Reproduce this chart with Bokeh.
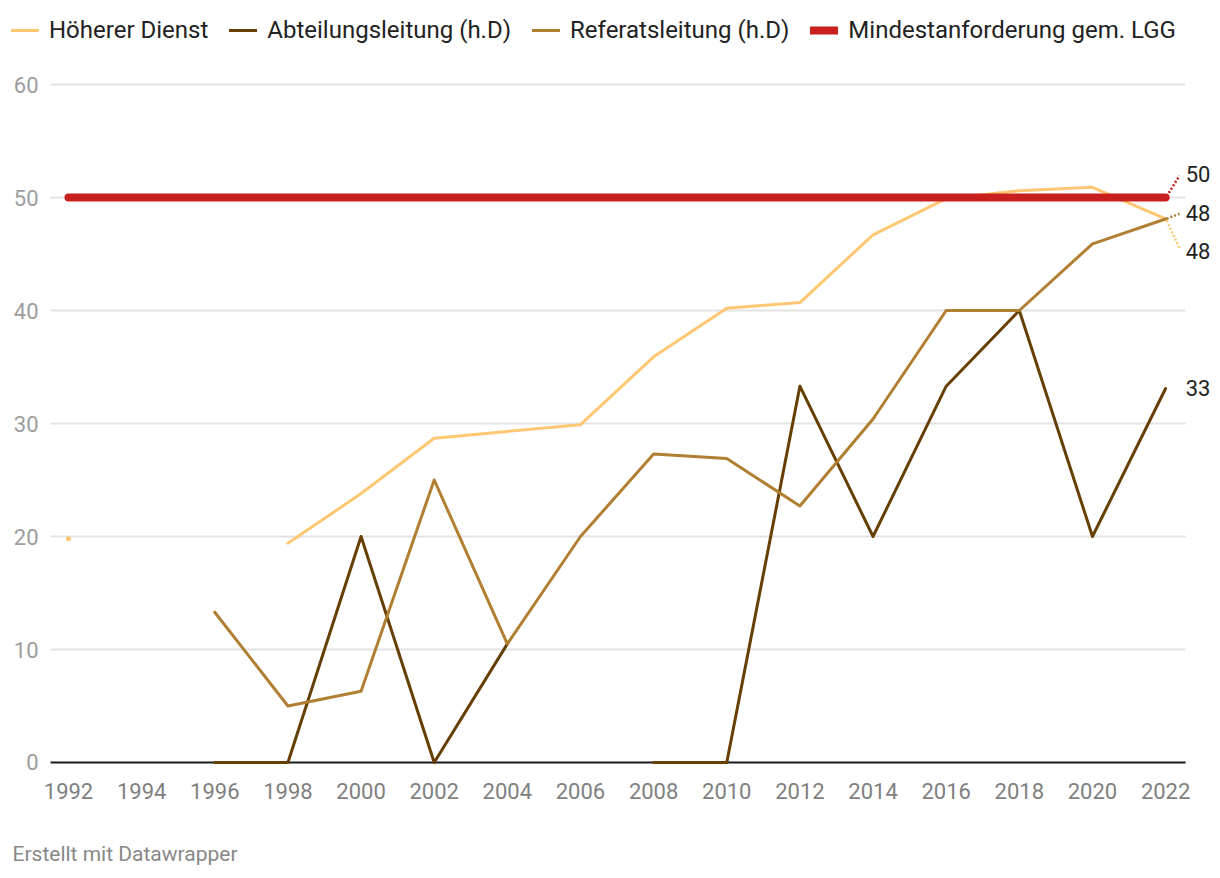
import math
from bokeh.plotting import figure
from bokeh.models import (FixedTicker, Legend, LegendItem, ColumnDataSource, Title)
from bokeh.core.properties import value
from bokeh.embed import file_html
from bokeh.resources import INLINE

nan = float("nan")

years = [1992, 1994, 1996, 1998, 2000, 2002, 2004, 2006, 2008, 2010, 2012, 2014, 2016, 2018, 2020, 2022]
hoeherer = [19.8, nan, nan, 19.4, 23.8, 28.7, 29.3, 29.9, 35.9, 40.2, 40.7, 46.7, 49.9, 50.6, 50.9, 48.1]
abteilung = [nan, nan, 0, 0, 20, 0, 10.5, nan, 0, 0, 33.3, 20, 33.3, 40, 20, 33.1]
referat = [nan, nan, 13.3, 5.0, 6.3, 25.0, 10.5, 20.0, 27.3, 26.9, 22.7, 30.4, 40.0, 40.0, 45.9, 48.1]
mindest = [50] * 16

names = ["Höherer Dienst", "Abteilungsleitung (h.D)", "Referatsleitung (h.D)", "Mindestanforderung gem. LGG"]
series = [hoeherer, abteilung, referat, mindest]
colors = ["#fec872", "#653f04", "#b07f31", "#c81f1f"]
widths = [3, 3, 3, 8]
# label vertical offsets (data units) and whether to draw a connector
label_offsets = [-2.8, 0.0, 0.5, 2.1]
connectors = [True, False, True, True]

x_ticks = list(range(1992, 2023, 2))
y_ticks = [0, 10, 20, 30, 40, 50, 60]

FONT = "Roboto"
X0, X1 = 1990.1406, 2023.501          # full frame range
GX0, GX1 = 1991.508, 2022.547          # extent of the grid lines

p = figure(width=1220, height=878, output_backend="svg", toolbar_location=None,
           x_range=(X0, X1), y_range=(-1.239, 67.434),
           min_border_left=0, min_border_right=0, min_border_top=0, min_border_bottom=102)
p.outline_line_color = None
p.background_fill_color = "white"
p.border_fill_color = "white"
p.xgrid.grid_line_color = None
p.ygrid.grid_line_color = None

p.xaxis.ticker = FixedTicker(ticks=x_ticks)
ax = p.xaxis[0]
ax.axis_line_color = None
ax.major_tick_line_color = None
ax.minor_tick_line_color = None
ax.major_label_text_font = FONT
ax.major_label_text_font_size = "22px"
ax.major_label_text_color = "#7f7f7f"
ax.major_label_standoff = 0
p.yaxis.visible = False

# y tick labels, grid lines (ending before the value labels) and the zero baseline
p.text([GX0] * len(y_ticks), y_ticks, text=[str(t) for t in y_ticks], x_offset=-12,
       text_font=value(FONT), text_font_size="22px", text_color="#9d9d9d",
       text_align="right", text_baseline="middle")
grid_y = [t for t in y_ticks if t != 0]
p.segment(x0=[GX0] * len(grid_y), y0=grid_y, x1=[GX1] * len(grid_y), y1=grid_y,
          line_color="#e3e3e3", line_width=2)
p.segment(x0=[GX0], y0=[0], x1=[GX1], y1=[0], line_color="#1a1a1a", line_width=2)

items = []
for name, vals, col, w in zip(names, series, colors, widths):
    src = ColumnDataSource(dict(x=years, y=vals))
    r = p.line("x", "y", source=src, line_color=col, line_width=w, line_cap="round", line_join="round")
    iso_x, iso_y = [], []
    for i, v in enumerate(vals):
        if math.isnan(v):
            continue
        prev_nan = i == 0 or math.isnan(vals[i - 1])
        next_nan = i == len(vals) - 1 or math.isnan(vals[i + 1])
        if prev_nan and next_nan:
            iso_x.append(years[i]); iso_y.append(v)
    if iso_x:
        p.scatter(iso_x, iso_y, size=w + 2, color=col, line_color=None)
    items.append(LegendItem(label=name, renderers=[r]))

# end labels
lab_x, lab_y, lab_t = [], [], []
for vals, col, off, conn in zip(series, colors, label_offsets, connectors):
    last = vals[-1]
    if conn:
        p.segment(x0=[years[-1] + 0.03], y0=[last + off * 0.05], x1=[years[-1] + 0.38], y1=[last + off * 0.92],
                  line_color=col, line_width=2.5, line_dash="2 2")
    lab_x.append(years[-1] + 0.55)
    lab_y.append(last + off)
    lab_t.append(f"{round(last):d}")
p.text(lab_x, lab_y, text=lab_t, text_font=value(FONT), text_font_size="22px",
       text_color="#222222", text_align="left", text_baseline="middle")

legend = Legend(items=items, orientation="horizontal", location=(11, 732),
                label_text_font=FONT, label_text_font_size="24px", label_text_color="#222222",
                glyph_width=28, glyph_height=24, label_standoff=10, spacing=21, padding=0, margin=0,
                border_line_color=None, background_fill_alpha=0)
p.add_layout(legend, "center")

# spacer between the x axis and the footer line
spacer = Title(text=" ", text_font_size="1px", align="left")
if "standoff" in Title.properties():
    spacer.standoff = 35
p.add_layout(spacer, "below")

footer = Title(text="Erstellt mit Datawrapper", align="left", offset=12,
               text_font=FONT, text_font_size="21px", text_color="#888888", text_font_style="normal")
if "standoff" in Title.properties():
    footer.standoff = 0
p.add_layout(footer, "below")

open("out.html", "w").write(file_html(p, INLINE))
